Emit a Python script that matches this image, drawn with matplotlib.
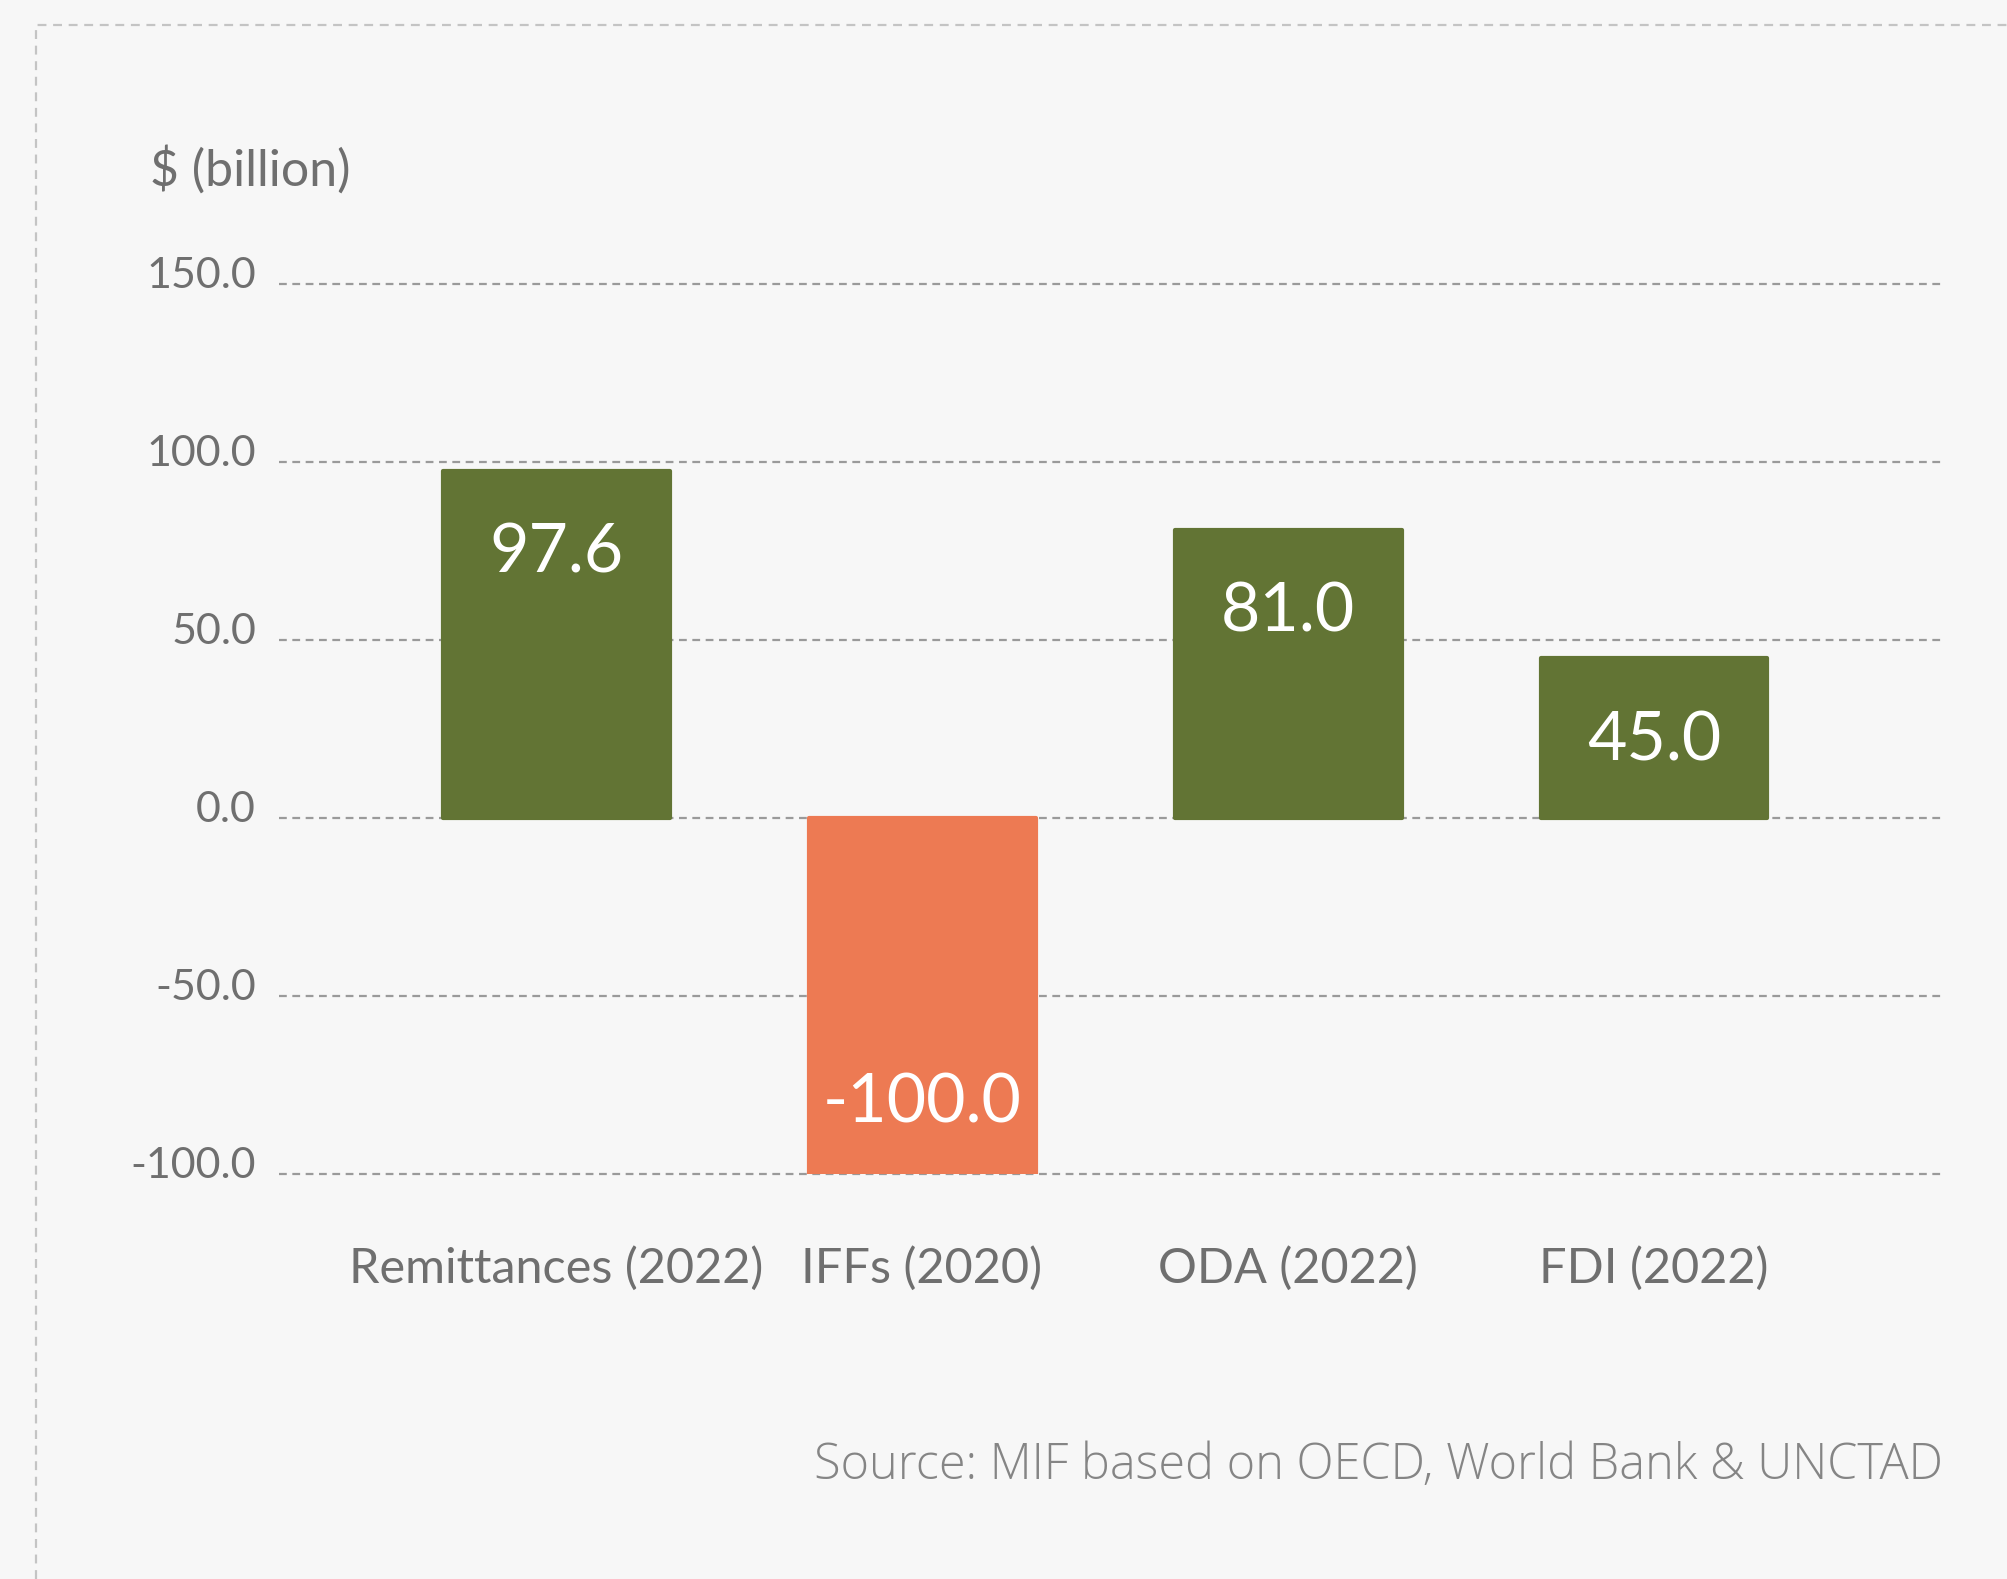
import numpy as np
import matplotlib
matplotlib.use('Agg')
import matplotlib.pyplot as plt
from matplotlib.transforms import blended_transform_factory
from matplotlib.lines import Line2D

# flows to the region, $ billion
categories = ['Remittances (2022)', 'IFFs (2020)', 'ODA (2022)', 'FDI (2022)']
values = [97.6, -100.0, 81.0, 45.0]
labels = ['97.6', '-100.0', '81.0', '45.0']
yticks = [150, 100, 50, 0, -50, -100]

green = '#627434'
orange = '#ed7a53'
bg = '#f7f7f7'
grey = '#6f6f6f'

plt.rcParams['font.family'] = ['Lato', 'DejaVu Sans']

fig = plt.figure(figsize=(20.08, 15.79), dpi=100, facecolor=bg)
ax = fig.add_axes([279/2008, 1 - 1174/1579, (1945-279)/2008, (1174-284)/1579])
ax.set_facecolor(bg)

x = np.arange(len(categories))
cols = [green if v >= 0 else orange for v in values]
ax.bar(x, values, width=0.62, color=cols, edgecolor=cols, linewidth=3,
       joinstyle='round', zorder=3)

ax.set_xlim(-0.757, 3.795)
ax.set_ylim(-100, 150)
for s in ax.spines.values():
    s.set_visible(False)
ax.set_xticks([])
ax.set_yticks([])

# dashed gridlines + tick labels sitting just above them
ytr = blended_transform_factory(ax.transAxes, ax.transData)
for t in yticks:
    ax.axhline(t, color='#9a9a9a', linestyle=(0, (3.5, 2.5)), linewidth=1.6,
               zorder=1, clip_on=False)
    ax.annotate('%.1f' % t, (-0.0138, t), xycoords=ytr, xytext=(0, -3),
                textcoords='offset points', ha='right', va='baseline',
                fontsize=31, color=grey, annotation_clip=False)

# value labels inside bar ends
for xi, v, lab in zip(x, values, labels):
    off = -60 if v >= 0 else 51
    ax.annotate(lab, (xi, v), xytext=(0, off), textcoords='offset points',
                ha='center', va='center', color='white', fontsize=49, zorder=4)

# category labels
tr = blended_transform_factory(ax.transData, fig.transFigure)
for xi, c in zip(x, categories):
    ax.text(xi, 1 - 1268/1579, c, transform=tr, ha='center', va='center',
            fontsize=35, color=grey)

fig.text(150/2008, 1 - 170/1579, '$ (billion)', ha='left', va='center',
         fontsize=36, color=grey)
fig.text(1943/2008, 1 - 1466/1579, 'Source: MIF based on OECD, World Bank & UNCTAD',
         ha='right', va='center', fontsize=35, color='#858585',
         family=['Open Sans', 'DejaVu Sans'], fontweight='light')

# dashed frame at top and left
bx, by = 36/2008, 1 - 25/1579
fig.add_artist(Line2D([bx, bx, 1.0], [0.0, by, by], transform=fig.transFigure,
                      color='#c4c4c4', linestyle=(0, (4, 3)), linewidth=1.6))

fig.savefig('out.png', dpi=100, facecolor=bg)
